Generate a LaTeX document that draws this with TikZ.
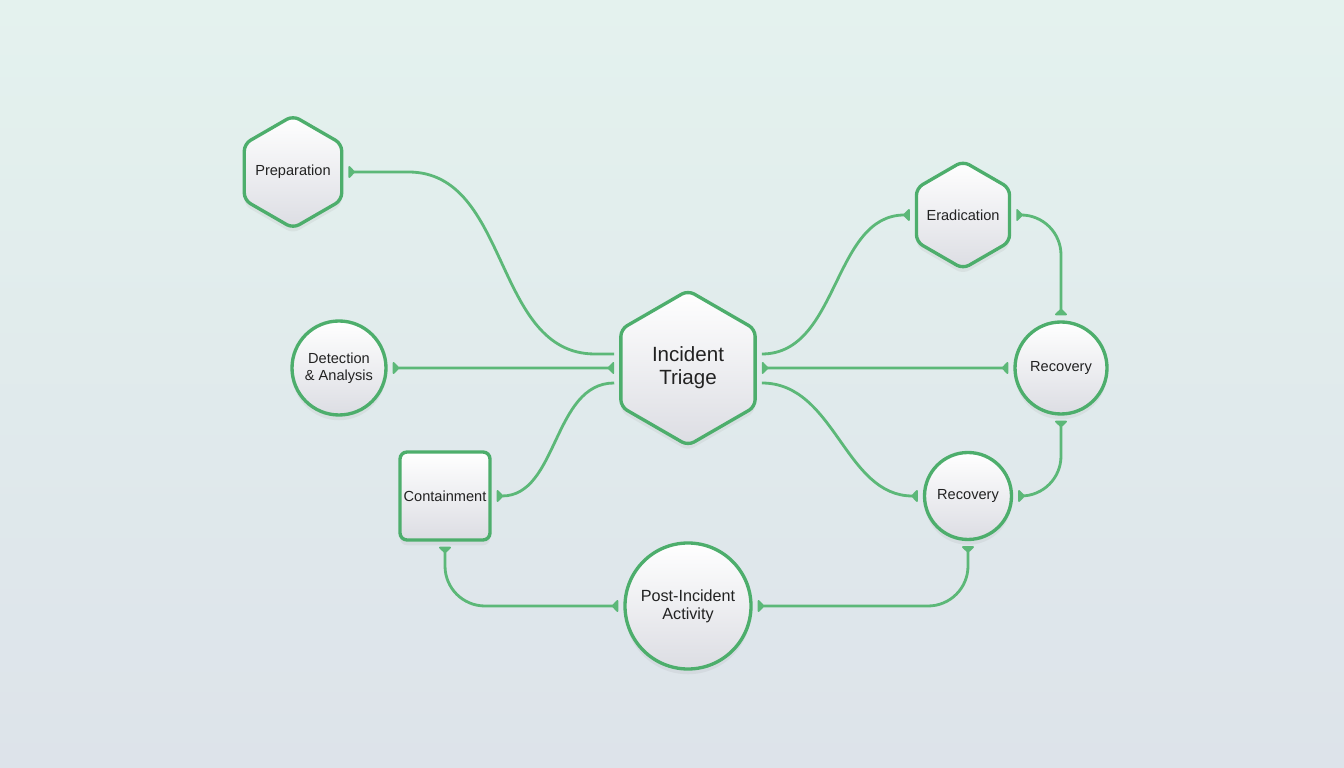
\documentclass[tikz,border=0pt]{standalone}
\usepackage{fontspec}
\setmainfont{Liberation Sans}
\usetikzlibrary{arrows.meta, shapes.geometric, shadows}

\definecolor{bgtop}{HTML}{E4F2EE}
\definecolor{bgbot}{HTML}{DDE3EA}
\definecolor{rim}{HTML}{4DAE6C}
\definecolor{wire}{HTML}{5CB878}
\definecolor{fillbot}{HTML}{DCDDE3}
\definecolor{ink}{HTML}{222222}

\begin{document}
\begin{tikzpicture}[
  box/.style={draw=rim, line width=1.9pt, top color=white, bottom color=fillbot,
    text=ink, font=\fontsize{8.3}{9.6}\selectfont, align=center, inner sep=1pt,
    drop shadow={opacity=0.10, shadow xshift=0pt, shadow yshift=-3pt}},
  hex/.style={box, regular polygon, regular polygon sides=6, shape border rotate=30,
    rounded corners=4pt, inner sep=-3.5pt},
  disc/.style={box, circle},
  link/.style={draw=wire, line width=1.6pt, shorten <=0.1cm, shorten >=0.1cm},
  knob/.tip={Triangle[reversed, length=4pt, width=8pt, round]},
]

% Background
\shade[top color=bgtop, bottom color=bgbot] (0,0) rectangle (26.88,15.36);

% Phases
\node[hex, minimum size=2.25cm] (prep) at (5.86,11.92) {Preparation};
\node[disc, minimum size=1.88cm] (detect) at (6.78,8.0) {Detection\\\& Analysis};
\node[box, rectangle, rounded corners=4pt, minimum width=1.8cm, minimum height=1.76cm] (contain) at (8.9,5.44) {Containment};
\node[hex, minimum size=3.1cm, font=\fontsize{11.7}{13}\selectfont] (triage) at (13.76,8.0) {Incident\\Triage};
\node[hex, minimum size=2.15cm] (erad) at (19.26,11.06) {Eradication};
\node[disc, minimum size=1.84cm] (recA) at (21.22,8.0) {Recovery};
\node[disc, minimum size=1.74cm] (recB) at (19.36,5.44) {Recovery};
\node[disc, minimum size=2.52cm, font=\fontsize{9.2}{10.2}\selectfont] (post) at (13.76,3.24) {Post-Incident\\Activity};

% Links into triage (left)
\draw[link, knob-] (prep.east) -- ++(1.3,0) to[out=0,in=180] (11.9,8.28) -- ([yshift=0.28cm]triage.west);
\draw[link, knob-knob] (detect.east) -- (triage.west);
\draw[link, knob-] (contain.east) to[out=0,in=180] ([yshift=-0.3cm]triage.west);

% Links out of triage (right)
\draw[link, -knob] ([yshift=0.28cm]triage.east) to[out=0,in=180] (erad.west);
\draw[link, knob-knob] (triage.east) -- (recA.west);
\draw[link, -knob] ([yshift=-0.3cm]triage.east) to[out=0,in=180] (recB.west);

% Outer loop
\draw[link, knob-knob, rounded corners=0.8cm] (erad.east) -| (recA.north);
\draw[link, knob-knob, rounded corners=0.8cm] (recA.south) |- (recB.east);
\draw[link, knob-knob, rounded corners=0.8cm] (recB.south) |- (post.east);
\draw[link, knob-knob, rounded corners=0.8cm] (contain.south) |- (post.west);

\end{tikzpicture}
\end{document}
